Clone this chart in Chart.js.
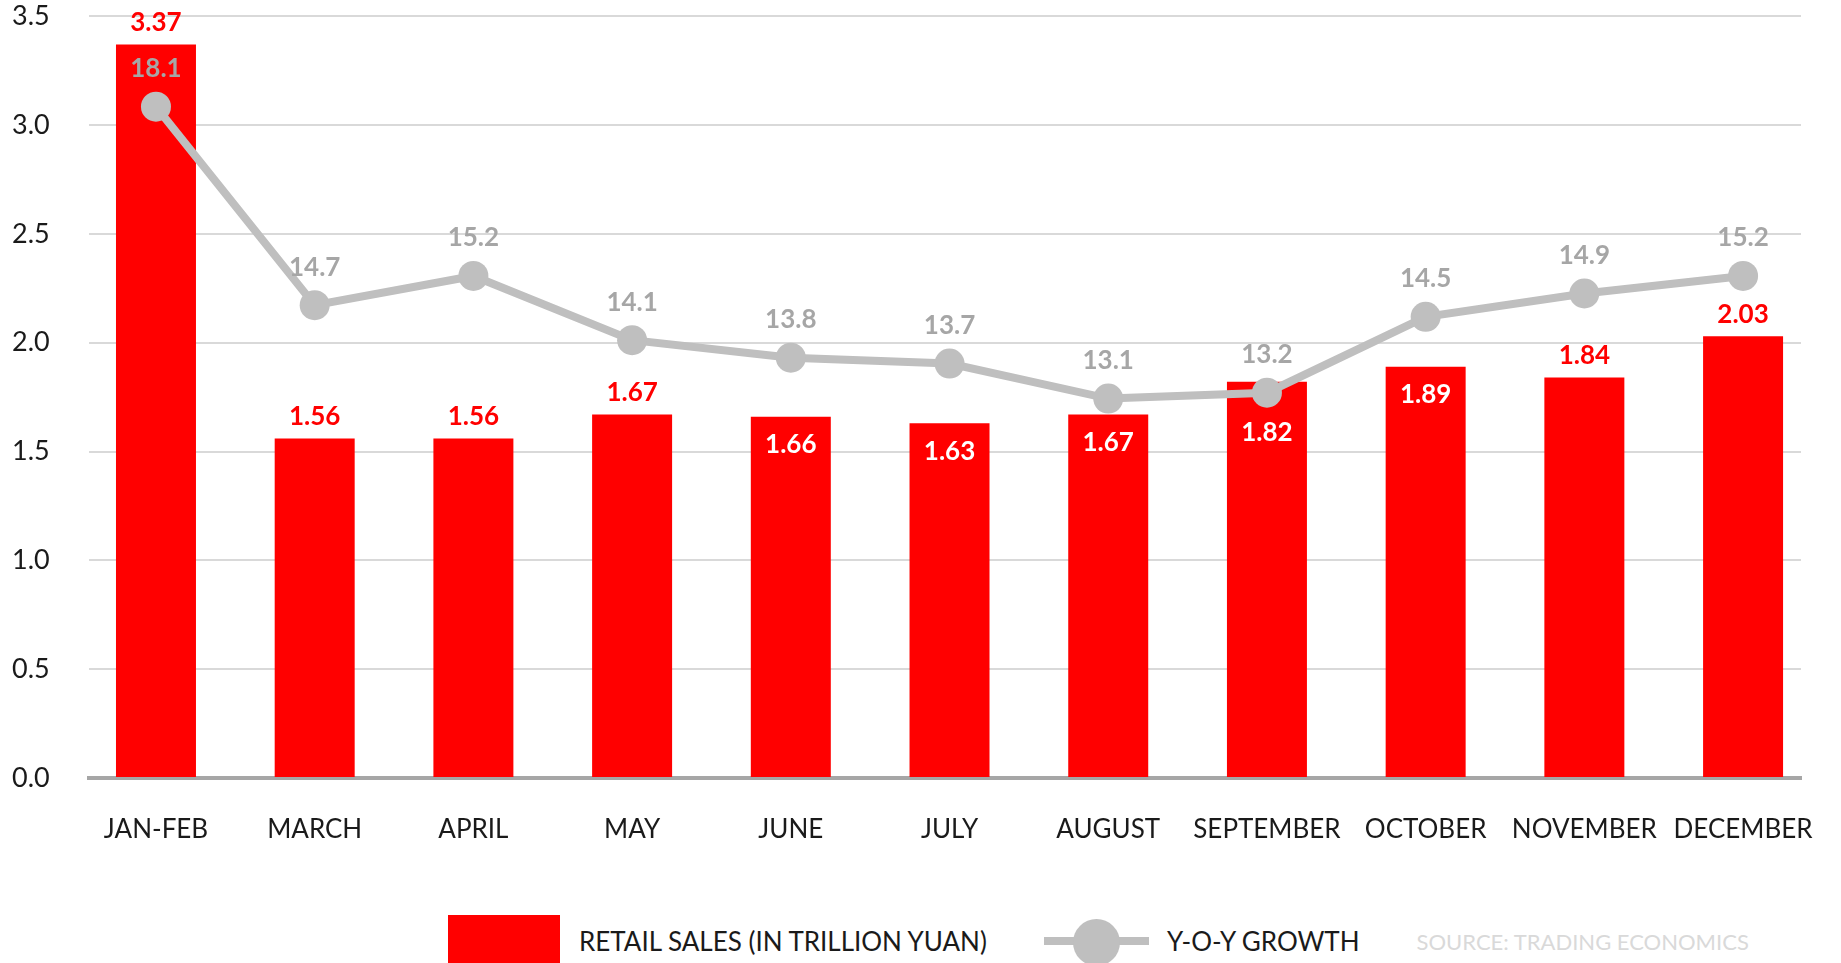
<!DOCTYPE html>
<html>
<head>
<meta charset="utf-8">
<title>Retail sales</title>
<script src="https://cdn.jsdelivr.net/npm/chart.js@4.4.1/dist/chart.umd.min.js"></script>
<style>
  html, body { margin: 0; padding: 0; background: #fff; width: 1841px; height: 963px; overflow: hidden; }
  #wrap { position: relative; width: 1841px; height: 963px; }
  #legend { position: absolute; left: 448px; top: 915px; height: 52px; display: flex; align-items: center;
            font-family: Lato, sans-serif; font-size: 26px; color: #1a1a1a; white-space: nowrap; }
  .box { width: 112px; height: 52px; background: #ff0000; margin-right: 19px; }
  .swatch { position: relative; width: 105px; height: 52px; margin-left: 57px; margin-right: 18px; }
  .swatch .ln { position: absolute; left: 0; right: 0; top: 22px; height: 8px; background: #bfbfbf; }
  .swatch .dot { position: absolute; left: 29px; top: 4px; width: 47px; height: 47px; border-radius: 50%; background: #bfbfbf; }
  .source { margin-left: 57px; font-size: 22px; color: #d9d9d9; }
</style>
</head>
<body>
<div id="wrap">
  <canvas id="salesChart" width="1841" height="885"></canvas>
  <div id="legend">
    <div class="box"></div><span id="lbl_sales"></span>
    <div class="swatch"><div class="ln"></div><div class="dot"></div></div><span id="lbl_growth"></span>
    <span class="source" id="lbl_source"></span>
  </div>
</div>
<script>
const months = ['JAN-FEB', 'MARCH', 'APRIL', 'MAY', 'JUNE', 'JULY', 'AUGUST', 'SEPTEMBER', 'OCTOBER', 'NOVEMBER', 'DECEMBER'];
// trillion yuan
const retailSales = [3.37, 1.56, 1.56, 1.67, 1.66, 1.63, 1.67, 1.82, 1.89, 1.84, 2.03];
// percent, year over year
const yoyGrowth = [18.1, 14.7, 15.2, 14.1, 13.8, 13.7, 13.1, 13.2, 14.5, 14.9, 15.2];

const salesLabel = 'RETAIL SALES (IN TRILLION YUAN)';
const growthLabel = 'Y-O-Y GROWTH';
const sourceText = 'SOURCE: TRADING ECONOMICS';

// white label inside the bar where the growth line sits right above it
const labelInside = [false, false, false, false, true, true, true, true, true, false, false];

const RED = '#ff0000';
const GREY = '#bfbfbf';
const FONT = 'Lato, sans-serif';

document.getElementById('lbl_sales').textContent = salesLabel;
document.getElementById('lbl_growth').textContent = growthLabel;
document.getElementById('lbl_source').textContent = sourceText;

// value labels for bars and growth points
const valueLabels = {
    id: 'valueLabels',
    afterDatasetsDraw(chart) {
        const ctx = chart.ctx;
        const bars = chart.getDatasetMeta(0).data;
        const pts = chart.getDatasetMeta(1).data;
        ctx.save();
        ctx.font = 'bold 26px ' + FONT;
        ctx.textAlign = 'center';
        ctx.textBaseline = 'middle';

        bars.forEach((bar, i) => {
            const txt = retailSales[i].toFixed(2);
            if (labelInside[i]) {
                const y = Math.max(bar.y + 28, pts[i].y + 40);
                ctx.fillStyle = '#ffffff';
                ctx.fillText(txt, bar.x, y);
            } else {
                ctx.fillStyle = RED;
                ctx.fillText(txt, bar.x, bar.y - 22);
            }
        });

        ctx.fillStyle = '#a6a6a6';
        pts.forEach((p, i) => {
            ctx.fillText(yoyGrowth[i].toFixed(1), p.x, p.y - 38);
        });
        ctx.restore();
    }
};

const ctx = document.getElementById('salesChart').getContext('2d');
const salesChart = new Chart(ctx, {
    type: 'bar',
    data: {
        datasets: [{
            type: 'bar',
            label: salesLabel,
            data: retailSales.map((v, i) => ({x: i, y: v})),
            backgroundColor: RED,
            borderWidth: 0,
            categoryPercentage: 1,
            barPercentage: 0.504,
            yAxisID: 'y',
            order: 1
        }, {
            type: 'line',
            label: growthLabel,
            data: yoyGrowth.map((v, i) => ({x: i, y: v})),
            borderColor: GREY,
            borderWidth: 8,
            backgroundColor: GREY,
            pointBackgroundColor: GREY,
            pointBorderWidth: 0,
            pointRadius: 15,
            tension: 0,
            yAxisID: 'y2',
            order: 0
        }]
    },
    options: {
        responsive: false,
        animation: false,
        layout: {
            autoPadding: false,
            padding: {left: 12, right: 40, top: 16, bottom: 3.8}
        },
        plugins: {
            legend: {display: false},
            tooltip: {enabled: false}
        },
        scales: {
            x: {
                type: 'linear',
                min: -0.422,
                max: 10.365,
                offset: false,
                z: 1,
                // DECEMBER may run past the plot edge, don't shrink the plot for it
                afterFit: (scale) => { scale.paddingLeft = 0; scale.paddingRight = 0; },
                grid: {display: false, drawTicks: false, offset: false},
                border: {display: true, color: '#a6a6a6', width: 4},
                ticks: {
                    stepSize: 1,
                    includeBounds: false,
                    autoSkip: false,
                    maxRotation: 0,
                    padding: 36,
                    color: '#1a1a1a',
                    font: {family: FONT, size: 26},
                    callback: (v) => months[v] ?? ''
                }
            },
            y: {
                min: 0,
                max: 3.5,
                afterFit: (scale) => { scale.width = 77; },
                grid: {color: '#d9d9d9', lineWidth: 2, drawTicks: false},
                border: {display: false},
                ticks: {
                    stepSize: 0.5,
                    padding: 0,
                    crossAlign: 'far',
                    color: '#1a1a1a',
                    font: {family: FONT, size: 27},
                    callback: (v) => v.toFixed(1)
                }
            },
            y2: {
                position: 'right',
                display: false,
                min: 6.6,
                max: 19.65
            }
        }
    },
    plugins: [valueLabels]
});
</script>
</body>
</html>
